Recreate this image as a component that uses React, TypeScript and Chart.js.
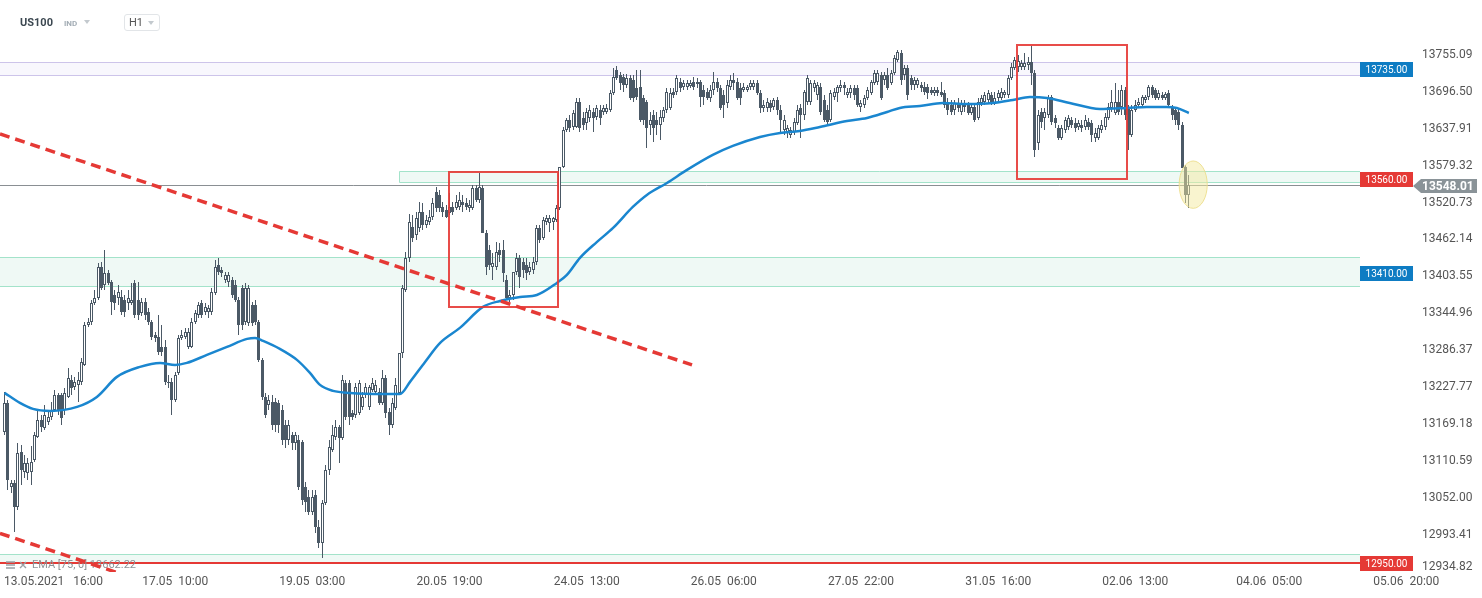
import React, { useEffect, useRef } from "react";
import { Chart, registerables } from "chart.js";

Chart.register(...registerables);
Chart.defaults.font.family = "Roboto";

const W = 1482;
const H = 598;

// ---- hourly candles, US100 H1 (13.05.2021 06:00 -> 03.06.2021 04:00) ----
const opens = [
  13157, 13203, 13069, 13076, 13038, 13125, 13093, 13092, 13093, 13112,
  13149, 13176, 13163, 13173, 13181, 13192, 13215, 13215, 13192, 13212,
  13239, 13228, 13231, 13236, 13263, 13326, 13331, 13361, 13369, 13419,
  13390, 13409, 13395, 13374, 13369, 13371, 13366, 13361, 13361, 13393,
  13366, 13346, 13363, 13347, 13331, 13311, 13308, 13292, 13292, 13235,
  13236, 13208, 13250, 13306, 13308, 13292, 13292, 13331, 13342, 13361,
  13347, 13347, 13347, 13377, 13422, 13414, 13398, 13395, 13398, 13390,
  13366, 13385, 13331, 13330, 13358, 13358, 13331, 13271, 13212, 13200,
  13204, 13204, 13203, 13192, 13168, 13144, 13152, 13139, 13144, 13141,
  13069, 13054, 13030, 13057, 13006, 12981, 13044, 13096, 13128, 13149,
  13165, 13147, 13235, 13235, 13187, 13184, 13187, 13196, 13215, 13196,
  13223, 13220, 13220, 13203, 13242, 13188, 13168, 13195, 13219, 13282,
  13382, 13433, 13482, 13469, 13481, 13506, 13485, 13490, 13498, 13538,
  13533, 13514, 13509, 13504, 13514, 13512, 13514, 13522, 13520, 13512,
  13512, 13544, 13525, 13544, 13473, 13446, 13419, 13419, 13446, 13446,
  13398, 13369, 13374, 13411, 13433, 13427, 13422, 13411, 13414, 13427,
  13481, 13465, 13490, 13488, 13490, 13493, 13512, 13577, 13636, 13652,
  13641, 13641, 13681, 13655, 13647, 13655, 13665, 13657, 13668, 13665,
  13665, 13668, 13695, 13731, 13723, 13720, 13708, 13719, 13715, 13703,
  13704, 13687, 13681, 13644, 13660, 13652, 13644, 13655, 13668, 13671,
  13696, 13696, 13712, 13704, 13704, 13706, 13712, 13709, 13712, 13700,
  13696, 13687, 13700, 13712, 13703, 13692, 13679, 13704, 13715, 13712,
  13703, 13700, 13700, 13704, 13704, 13711, 13695, 13671, 13671, 13679,
  13673, 13684, 13668, 13636, 13631, 13628, 13633, 13647, 13671, 13660,
  13681, 13681, 13703, 13692, 13704, 13684, 13668, 13652, 13688, 13695,
  13703, 13708, 13692, 13695, 13703, 13703, 13673, 13676, 13687, 13695,
  13710, 13712, 13723, 13715, 13723, 13710, 13727, 13747, 13758, 13723,
  13734, 13719, 13707, 13707, 13707, 13704, 13704, 13700, 13695, 13700,
  13696, 13695, 13681, 13676, 13668, 13679, 13665, 13679, 13676, 13663,
  13673, 13655, 13679, 13681, 13684, 13692, 13679, 13687, 13687, 13692,
  13692, 13719, 13734, 13736, 13736, 13736, 13739, 13744, 13726, 13615,
  13665, 13655, 13660, 13688, 13655, 13639, 13623, 13636, 13641, 13652,
  13647, 13641, 13644, 13641, 13649, 13647, 13623, 13623, 13636, 13641,
  13655, 13671, 13663, 13681, 13673, 13700, 13673, 13628, 13668, 13676,
  13676, 13684, 13688, 13704, 13700, 13687, 13692, 13687, 13695, 13671,
  13668, 13665, 13644, 13577, 13533,
];
const highs = [
  13220, 13208, 13081, 13081, 13139, 13136, 13120, 13115, 13135, 13157,
  13192, 13184, 13200, 13192, 13204, 13223, 13219, 13219, 13226, 13258,
  13247, 13244, 13252, 13274, 13331, 13338, 13366, 13382, 13425, 13427,
  13446, 13414, 13398, 13382, 13390, 13382, 13374, 13382, 13393, 13398,
  13395, 13369, 13369, 13354, 13334, 13315, 13342, 13326, 13303, 13247,
  13242, 13252, 13311, 13319, 13322, 13322, 13338, 13350, 13363, 13366,
  13361, 13358, 13385, 13430, 13433, 13419, 13411, 13411, 13403, 13398,
  13371, 13390, 13393, 13390, 13363, 13366, 13334, 13274, 13219, 13215,
  13215, 13211, 13207, 13200, 13176, 13176, 13157, 13157, 13152, 13144,
  13077, 13065, 13065, 13065, 13017, 13049, 13104, 13144, 13168, 13176,
  13168, 13247, 13239, 13239, 13192, 13235, 13239, 13220, 13235, 13231,
  13242, 13239, 13227, 13255, 13247, 13195, 13210, 13242, 13282, 13390,
  13442, 13503, 13501, 13506, 13522, 13520, 13501, 13509, 13528, 13546,
  13541, 13522, 13517, 13536, 13522, 13533, 13538, 13533, 13528, 13525,
  13549, 13549, 13568, 13549, 13477, 13454, 13441, 13458, 13457, 13461,
  13406, 13382, 13411, 13441, 13438, 13433, 13433, 13427, 13435, 13485,
  13485, 13498, 13501, 13501, 13498, 13517, 13577, 13641, 13655, 13660,
  13668, 13687, 13687, 13665, 13671, 13676, 13671, 13676, 13676, 13676,
  13677, 13700, 13735, 13738, 13728, 13725, 13725, 13723, 13723, 13731,
  13731, 13692, 13684, 13665, 13668, 13665, 13668, 13673, 13703, 13703,
  13703, 13723, 13719, 13715, 13715, 13715, 13720, 13719, 13715, 13708,
  13703, 13708, 13728, 13719, 13708, 13700, 13715, 13723, 13727, 13719,
  13711, 13711, 13708, 13715, 13715, 13715, 13700, 13684, 13687, 13684,
  13687, 13688, 13676, 13660, 13644, 13641, 13655, 13676, 13677, 13700,
  13723, 13715, 13715, 13712, 13710, 13692, 13676, 13700, 13703, 13708,
  13715, 13712, 13703, 13708, 13708, 13708, 13684, 13692, 13704, 13715,
  13731, 13731, 13728, 13728, 13734, 13731, 13755, 13763, 13763, 13739,
  13739, 13723, 13720, 13719, 13712, 13712, 13709, 13704, 13704, 13704,
  13712, 13700, 13687, 13684, 13684, 13687, 13684, 13684, 13681, 13679,
  13679, 13687, 13692, 13696, 13700, 13696, 13696, 13700, 13703, 13700,
  13723, 13742, 13752, 13755, 13747, 13758, 13752, 13769, 13731, 13668,
  13671, 13671, 13692, 13692, 13660, 13644, 13644, 13657, 13660, 13657,
  13655, 13652, 13652, 13660, 13655, 13652, 13639, 13644, 13652, 13663,
  13679, 13700, 13711, 13700, 13707, 13704, 13676, 13676, 13684, 13687,
  13692, 13692, 13707, 13707, 13703, 13700, 13696, 13696, 13700, 13676,
  13673, 13671, 13649, 13580, 13565,
];
const lows = [
  13152, 13065, 13060, 12998, 13033, 13073, 13084, 13081, 13073, 13109,
  13147, 13157, 13160, 13168, 13176, 13188, 13184, 13168, 13184, 13211,
  13215, 13223, 13204, 13231, 13261, 13323, 13326, 13358, 13366, 13382,
  13382, 13390, 13342, 13350, 13358, 13342, 13339, 13350, 13358, 13338,
  13334, 13341, 13334, 13326, 13303, 13300, 13279, 13277, 13231, 13227,
  13184, 13204, 13247, 13303, 13304, 13288, 13290, 13328, 13338, 13338,
  13342, 13338, 13342, 13374, 13406, 13403, 13393, 13387, 13369, 13363,
  13311, 13319, 13326, 13325, 13325, 13326, 13268, 13207, 13179, 13192,
  13160, 13157, 13155, 13136, 13131, 13136, 13128, 13128, 13065, 13041,
  13030, 13025, 13025, 12996, 12973, 12957, 13041, 13088, 13125, 13144,
  13107, 13144, 13176, 13168, 13176, 13179, 13184, 13192, 13211, 13192,
  13220, 13215, 13200, 13200, 13179, 13152, 13163, 13192, 13215, 13274,
  13379, 13427, 13458, 13461, 13474, 13477, 13481, 13485, 13493, 13506,
  13506, 13498, 13496, 13501, 13501, 13509, 13509, 13506, 13509, 13506,
  13509, 13522, 13520, 13473, 13406, 13414, 13398, 13414, 13427, 13395,
  13366, 13363, 13366, 13406, 13385, 13401, 13398, 13406, 13408, 13422,
  13457, 13461, 13485, 13474, 13477, 13490, 13509, 13576, 13633, 13633,
  13636, 13639, 13633, 13636, 13636, 13649, 13633, 13652, 13644, 13660,
  13661, 13665, 13692, 13715, 13700, 13696, 13703, 13684, 13681, 13684,
  13649, 13644, 13607, 13628, 13617, 13628, 13620, 13649, 13663, 13668,
  13687, 13692, 13696, 13700, 13700, 13703, 13700, 13703, 13673, 13676,
  13684, 13681, 13692, 13696, 13668, 13655, 13671, 13700, 13700, 13684,
  13676, 13696, 13696, 13700, 13700, 13692, 13663, 13665, 13665, 13665,
  13668, 13660, 13633, 13628, 13623, 13623, 13628, 13644, 13623, 13652,
  13676, 13676, 13696, 13684, 13660, 13649, 13644, 13649, 13684, 13681,
  13696, 13692, 13687, 13687, 13684, 13673, 13665, 13671, 13684, 13692,
  13707, 13707, 13684, 13707, 13700, 13707, 13723, 13744, 13707, 13715,
  13684, 13700, 13700, 13702, 13696, 13692, 13686, 13692, 13690, 13690,
  13688, 13671, 13660, 13660, 13660, 13665, 13660, 13665, 13660, 13660,
  13649, 13652, 13674, 13676, 13679, 13676, 13676, 13681, 13684, 13687,
  13687, 13715, 13731, 13728, 13731, 13731, 13731, 13707, 13593, 13604,
  13639, 13636, 13655, 13644, 13639, 13620, 13620, 13631, 13636, 13639,
  13633, 13636, 13633, 13636, 13636, 13617, 13617, 13620, 13631, 13636,
  13652, 13665, 13660, 13660, 13660, 13652, 13604, 13625, 13665, 13671,
  13673, 13679, 13684, 13687, 13684, 13684, 13684, 13684, 13671, 13652,
  13644, 13636, 13576, 13520, 13512,
];
const closes = [
  13203, 13081, 13076, 13038, 13123, 13096, 13108, 13108, 13109, 13152,
  13176, 13165, 13184, 13181, 13192, 13215, 13192, 13179, 13219, 13242,
  13226, 13236, 13239, 13268, 13326, 13331, 13361, 13369, 13419, 13385,
  13409, 13393, 13363, 13361, 13379, 13347, 13347, 13369, 13366, 13342,
  13342, 13363, 13342, 13331, 13308, 13306, 13284, 13284, 13236, 13236,
  13208, 13247, 13306, 13311, 13315, 13315, 13331, 13346, 13358, 13342,
  13355, 13354, 13379, 13419, 13411, 13409, 13406, 13406, 13374, 13366,
  13326, 13326, 13385, 13385, 13330, 13331, 13271, 13212, 13184, 13207,
  13168, 13168, 13168, 13144, 13144, 13168, 13139, 13152, 13069, 13049,
  13046, 13030, 13054, 13006, 12981, 13044, 13096, 13133, 13152, 13165,
  13147, 13239, 13181, 13181, 13181, 13228, 13235, 13212, 13228, 13228,
  13235, 13231, 13203, 13242, 13187, 13168, 13203, 13231, 13282, 13385,
  13433, 13490, 13465, 13496, 13506, 13485, 13493, 13498, 13520, 13512,
  13512, 13506, 13498, 13514, 13506, 13522, 13525, 13517, 13514, 13517,
  13544, 13525, 13546, 13473, 13419, 13422, 13425, 13442, 13438, 13409,
  13369, 13374, 13411, 13433, 13403, 13414, 13409, 13419, 13427, 13481,
  13461, 13493, 13496, 13496, 13496, 13512, 13577, 13636, 13652, 13639,
  13663, 13681, 13639, 13644, 13665, 13668, 13655, 13671, 13655, 13671,
  13671, 13695, 13720, 13719, 13711, 13708, 13719, 13687, 13687, 13688,
  13652, 13652, 13639, 13652, 13639, 13644, 13657, 13668, 13696, 13695,
  13692, 13719, 13703, 13711, 13711, 13711, 13704, 13712, 13688, 13688,
  13687, 13700, 13712, 13703, 13671, 13676, 13708, 13715, 13711, 13687,
  13687, 13704, 13704, 13711, 13711, 13695, 13671, 13676, 13681, 13671,
  13684, 13668, 13652, 13652, 13639, 13636, 13649, 13668, 13660, 13696,
  13719, 13711, 13711, 13708, 13665, 13652, 13649, 13695, 13696, 13704,
  13708, 13703, 13696, 13703, 13692, 13676, 13679, 13687, 13700, 13712,
  13727, 13727, 13687, 13723, 13703, 13727, 13750, 13760, 13715, 13734,
  13692, 13707, 13715, 13715, 13703, 13696, 13695, 13695, 13700, 13695,
  13692, 13676, 13668, 13665, 13679, 13671, 13679, 13673, 13663, 13673,
  13652, 13681, 13687, 13692, 13695, 13679, 13687, 13695, 13696, 13696,
  13719, 13736, 13747, 13746, 13742, 13742, 13744, 13726, 13604, 13660,
  13649, 13665, 13687, 13649, 13647, 13623, 13639, 13652, 13655, 13644,
  13639, 13647, 13639, 13652, 13641, 13628, 13631, 13639, 13644, 13657,
  13673, 13681, 13681, 13665, 13700, 13660, 13628, 13668, 13676, 13681,
  13688, 13688, 13704, 13692, 13687, 13695, 13687, 13693, 13676, 13660,
  13652, 13644, 13576, 13533, 13548.01,
];

// ---- EMA(75) line (candle index, value) ----
const emaIdx = [
  0, 4.6, 8.5, 13.6, 21.7, 27.6, 33.6, 40.5, 46.5, 51,
  54.5, 60.5, 66.5, 72.5, 74.9, 77.3, 82.3, 87.4, 91.3, 94.3,
  98.2, 103.3, 113.1, 118.2, 121.2, 125.7, 130.2, 136.1, 143, 148.1,
  154.1, 159.1, 165.1, 168.1, 172, 177.1, 181.9, 187.8, 192, 198,
  204, 211.7, 217.7, 225.8, 231.8, 237.7, 243.7, 251.8, 257.8, 263.8,
  267.6, 273.6, 280.5, 287.6, 295.4, 301.4, 306.5, 311.6, 318.4, 327.4,
  335.5, 341.4, 347.4, 350.4, 354,
];
const emaVal = [
  13218.6, 13202.7, 13193.2, 13190, 13196.4, 13212.2, 13244, 13259.9, 13266.2, 13263,
  13266.2, 13278.9, 13291.6, 13304.3, 13305.9, 13301.1, 13288.4, 13271, 13250.3, 13231.3,
  13221.8, 13218.6, 13217, 13217, 13236.1, 13267.8, 13298, 13321.8, 13355.1, 13364.6,
  13371, 13374.1, 13393.2, 13405.9, 13432.9, 13458.3, 13480.5, 13513.8, 13532.9, 13551.9,
  13572.6, 13596.4, 13610.7, 13624.9, 13631.3, 13634.5, 13640.8, 13650.3, 13655.1, 13664.6,
  13671, 13674.1, 13678.9, 13677.3, 13678.9, 13683.7, 13688.4, 13686.8, 13678.9, 13669.4,
  13671, 13672.6, 13672.6, 13671, 13663,
];
const emaPeriod = 75;
const emaLast = 13662.22;

// ---- axes ----
const xTickIdx = [10, 51, 92, 133, 174, 215, 256, 297, 338, 378, 419];
const xTickLabels = [
  "13.05.2021   16:00", "17.05  10:00", "19.05  03:00", "20.05  19:00", "24.05  13:00",
  "26.05  06:00", "27.05  22:00", "31.05  16:00", "02.06  13:00", "04.06  05:00", "05.06  20:00",
];
const yTicks = [
  12934.82, 12993.41, 13052.0, 13110.59, 13169.18, 13227.77, 13286.37, 13344.96,
  13403.55, 13462.14, 13520.73, 13579.32, 13637.91, 13696.5, 13755.09,
];
const X_MIN = -1.35;
const X_MAX = 421;
const Y_MIN = 12934.2;
const Y_MAX = 13842.4;

// ---- drawn annotations (data space) ----
const lastPrice = 13548.01;
const levelValues = [13735, 13560, 13410, 12950];
const levelIsRed = [false, true, false, true];
const purpleBand = [13723.4, 13743.5];
const mintBandUpper = [13553.4, 13570.9];
const mintBandUpperStart = 118;
const mintBandMiddle = [13388.4, 13434];
const mintBandLower = [12950, 12962.6];
const redBoxX = [[132.8, 165.5], [302.6, 335.4]];
const redBoxY = [[13355.6, 13568.9], [13557.8, 13771]];
const trendA = [[-1.35, 13629.7], [205.5, 13263]];
const trendB = [[-1.35, 12995.6], [40, 12922]];
const highlightX = [351.1, 359.5];
const highlightY = [13511.6, 13586.8];

const CANDLE = "#4b5966";
const BLUE = "#0e7cc3";
const RED = "#e53935";

// snaps candle bars to whole pixels so they render crisp
const snapPlugin = {
  id: "snap",
  afterDatasetsUpdate(chart: any) {
    chart.data.datasets.forEach((_: any, di: number) => {
      const meta = chart.getDatasetMeta(di);
      if (meta.type !== "bar") return;
      meta.data.forEach((el: any) => {
        el.x = Math.floor(el.x) + 0.5;
        let top = Math.round(el.y);
        const base = Math.round(el.base);
        if (Math.abs(top - base) < 1) top = base - 1;
        el.y = top;
        el.base = base;
        el.height = base - top;
      });
    });
  },
};

const overlayPlugin = {
  id: "overlay",
  beforeDatasetsDraw(chart: any) {
    const { ctx, chartArea: a } = chart;
    const xs = chart.scales.x;
    const ys = chart.scales.y;
    const bandRight = a.right - 53;
    const py = (v: number) => Math.round(ys.getPixelForValue(v)) + 0.5;
    ctx.save();
    ctx.beginPath();
    ctx.rect(a.left, a.top, a.width, a.height);
    ctx.clip();

    const band = (x0: number, x1: number, v: number[], fill: string, stroke: string, sides: boolean) => {
      const yt = py(Math.max(v[0], v[1]));
      const yb = py(Math.min(v[0], v[1]));
      ctx.fillStyle = fill;
      ctx.fillRect(x0, yt, x1 - x0, yb - yt);
      ctx.strokeStyle = stroke;
      ctx.lineWidth = 1;
      ctx.beginPath();
      ctx.moveTo(x0, yt);
      ctx.lineTo(x1, yt);
      ctx.moveTo(x0, yb);
      ctx.lineTo(x1, yb);
      if (sides) {
        ctx.moveTo(x0, yt);
        ctx.lineTo(x0, yb);
      }
      ctx.stroke();
    };
    band(a.left, bandRight, purpleBand, "#f8f7fd", "#cdc4ea", false);
    band(Math.round(xs.getPixelForValue(mintBandUpperStart)) + 0.5, bandRight, mintBandUpper, "#eff9f5", "#a3e3ca", true);
    band(a.left, bandRight, mintBandMiddle, "#eff9f5", "#a3e3ca", false);
    band(a.left, bandRight, mintBandLower, "#eff9f5", "#a3e3ca", false);

    // 12950 red level line
    const yr = Math.round(ys.getPixelForValue(levelValues[3])) + 1;
    ctx.strokeStyle = RED;
    ctx.lineWidth = 2;
    ctx.beginPath();
    ctx.moveTo(a.left, yr);
    ctx.lineTo(bandRight, yr);
    ctx.stroke();

    // current price line
    const yp = py(lastPrice);
    ctx.strokeStyle = "#8a8f93";
    ctx.lineWidth = 1;
    ctx.beginPath();
    ctx.moveTo(a.left, yp);
    ctx.lineTo(a.right, yp);
    ctx.stroke();

    // EMA legend
    const ly = a.bottom - 7;
    ctx.strokeStyle = "#9aa0a5";
    ctx.lineWidth = 1.4;
    ctx.beginPath();
    for (let k = -1; k <= 1; k++) {
      ctx.moveTo(6, ly + k * 3);
      ctx.lineTo(15, ly + k * 3);
    }
    ctx.moveTo(20, ly - 3);
    ctx.lineTo(26, ly + 3);
    ctx.moveTo(26, ly - 3);
    ctx.lineTo(20, ly + 3);
    ctx.stroke();
    ctx.fillStyle = "#8d9397";
    ctx.font = "11px Roboto";
    ctx.textAlign = "left";
    ctx.textBaseline = "middle";
    ctx.fillText(`EMA [${emaPeriod}, 0] ${emaLast.toFixed(2)}`, 32, ly);
    ctx.restore();
  },
  afterDatasetsDraw(chart: any) {
    const { ctx, chartArea: a } = chart;
    const xs = chart.scales.x;
    const ys = chart.scales.y;
    ctx.save();
    ctx.beginPath();
    ctx.rect(a.left, a.top, a.width, a.height);
    ctx.clip();

    // red rectangles
    ctx.strokeStyle = "rgba(229,57,53,0.9)";
    ctx.lineWidth = 2;
    redBoxX.forEach((bx, k) => {
      const x0 = Math.round(xs.getPixelForValue(bx[0]));
      const x1 = Math.round(xs.getPixelForValue(bx[1]));
      const y0 = Math.round(ys.getPixelForValue(redBoxY[k][1]));
      const y1 = Math.round(ys.getPixelForValue(redBoxY[k][0]));
      ctx.strokeRect(x0, y0, x1 - x0, y1 - y0);
    });

    // dashed trend lines
    ctx.strokeStyle = RED;
    ctx.lineWidth = 3.5;
    ctx.setLineDash([10, 6]);
    [trendA, trendB].forEach((t) => {
      ctx.beginPath();
      ctx.moveTo(xs.getPixelForValue(t[0][0]), ys.getPixelForValue(t[0][1]));
      ctx.lineTo(xs.getPixelForValue(t[1][0]), ys.getPixelForValue(t[1][1]));
      ctx.stroke();
    });
    ctx.setLineDash([]);

    // highlight ellipse
    const ex0 = xs.getPixelForValue(highlightX[0]);
    const ex1 = xs.getPixelForValue(highlightX[1]);
    const ey0 = ys.getPixelForValue(highlightY[1]);
    const ey1 = ys.getPixelForValue(highlightY[0]);
    ctx.beginPath();
    ctx.ellipse((ex0 + ex1) / 2, (ey0 + ey1) / 2, (ex1 - ex0) / 2, (ey1 - ey0) / 2, 0, 0, Math.PI * 2);
    ctx.fillStyle = "rgba(244,234,160,0.5)";
    ctx.fill();
    ctx.strokeStyle = "rgba(236,222,140,0.9)";
    ctx.lineWidth = 1;
    ctx.stroke();

    // level labels at the right edge of the plot
    ctx.font = "10px Roboto";
    ctx.textAlign = "center";
    ctx.textBaseline = "middle";
    levelValues.forEach((v, k) => {
      const yc = Math.round(ys.getPixelForValue(v)) + 1.5;
      ctx.fillStyle = levelIsRed[k] ? RED : BLUE;
      ctx.fillRect(a.right - 53, yc - 7.5, 53, 15);
      ctx.fillStyle = "#ffffff";
      ctx.fillText(v.toFixed(2), a.right - 26.5, yc + 0.5);
    });
    ctx.restore();
  },
  afterDraw(chart: any) {
    const { ctx, chartArea: a } = chart;
    const xs = chart.scales.x;
    const ys = chart.scales.y;
    ctx.save();
    ctx.font = "12px Roboto";
    ctx.fillStyle = "#555";
    ctx.textAlign = "left";
    ctx.textBaseline = "middle";
    // x-axis labels
    xTickIdx.forEach((v, k) => {
      const w = ctx.measureText(xTickLabels[k]).width;
      const cx = xs.getPixelForValue(v);
      const left = Math.max(4, cx - w / 2);
      ctx.fillText(xTickLabels[k], left, a.bottom + 10);
    });
    // y-axis labels (bottom one kept inside the plot height)
    yTicks.forEach((v) => {
      const yc = Math.min(ys.getPixelForValue(v), a.bottom - 5);
      ctx.fillText(v.toFixed(2), a.right + 9, yc);
    });
    // last price tag
    const yc = Math.round(ys.getPixelForValue(lastPrice)) + 1;
    const x0 = a.right;
    ctx.fillStyle = "#8a9398";
    ctx.beginPath();
    ctx.moveTo(x0, yc);
    ctx.lineTo(x0 + 8, yc - 7);
    ctx.lineTo(x0 + 64, yc - 7);
    ctx.lineTo(x0 + 64, yc + 7);
    ctx.lineTo(x0 + 8, yc + 7);
    ctx.closePath();
    ctx.fill();
    ctx.fillStyle = "#ffffff";
    ctx.font = "bold 12px Roboto";
    ctx.fillText(lastPrice.toFixed(2), x0 + 9, yc + 0.5);
    ctx.restore();
  },
};

export default function App() {
  const ref = useRef<HTMLCanvasElement>(null);

  useEffect(() => {
    const canvas = ref.current;
    if (!canvas) return;
    const idx = closes.map((_, i) => i);
    const wickData = idx.map((i) => ({ x: i, y: [lows[i], highs[i]] }));
    const bodyData = idx.map((i) => ({ x: i, y: [opens[i], closes[i]] }));
    const bodyFill = idx.map((i) => (closes[i] >= opens[i] ? "#ffffff" : CANDLE));
    const emaData = emaIdx.map((x, i) => ({ x, y: emaVal[i] }));

    const chart = new Chart(canvas, {
      type: "bar",
      data: {
        datasets: [
          {
            type: "bar",
            data: wickData as any,
            backgroundColor: CANDLE,
            barThickness: 1,
            grouped: false,
            inflateAmount: 0,
            order: 2,
          } as any,
          {
            type: "bar",
            data: bodyData as any,
            backgroundColor: bodyFill,
            borderColor: CANDLE,
            borderWidth: 1,
            borderSkipped: false,
            barThickness: 3,
            minBarLength: 1,
            grouped: false,
            inflateAmount: 0,
            order: 1,
          } as any,
          {
            type: "line",
            data: emaData as any,
            borderColor: "#1a86cf",
            borderWidth: 2.5,
            pointRadius: 0,
            cubicInterpolationMode: "monotone",
            order: 0,
          } as any,
        ],
      },
      options: {
        responsive: false,
        animation: false,
        devicePixelRatio: 1,
        events: [],
        layout: { padding: 0 },
        plugins: { legend: { display: false }, tooltip: { enabled: false } },
        scales: {
          x: {
            type: "linear",
            min: X_MIN,
            max: X_MAX,
            offset: false,
            grid: { display: false },
            border: { display: false },
            ticks: { display: false },
            afterFit: (s: any) => {
              s.height = 26;
              s.paddingLeft = 0;
              s.paddingRight = 0;
            },
          },
          y: {
            type: "linear",
            position: "right",
            min: Y_MIN,
            max: Y_MAX,
            grid: { display: false, drawTicks: false },
            border: { display: false },
            ticks: { display: false },
            afterBuildTicks: (s: any) => {
              s.ticks = yTicks.map((v) => ({ value: v }));
            },
            afterFit: (s: any) => {
              s.width = 69;
              s.paddingTop = 0;
              s.paddingBottom = 0;
            },
          },
        },
      } as any,
      plugins: [snapPlugin, overlayPlugin],
    });
    return () => chart.destroy();
  }, []);

  const tri = (left: number, top: number) => (
    <div
      style={{
        position: "absolute",
        left,
        top,
        width: 0,
        height: 0,
        borderLeft: "3.5px solid transparent",
        borderRight: "3.5px solid transparent",
        borderTop: "4px solid #c3c9ce",
      }}
    />
  );

  return (
    <div style={{ position: "absolute", left: 0, top: 0, width: W, height: H, background: "#fff", overflow: "hidden" }}>
      <canvas ref={ref} width={W} height={H} style={{ display: "block", width: W, height: H }} />
      <div style={{ position: "absolute", left: 20, top: 16, font: "bold 11px Roboto", color: "#3c4851", lineHeight: "13px" }}>
        US100
      </div>
      <div style={{ position: "absolute", left: 64, top: 19, font: "bold 8px Roboto", color: "#a3adb5", lineHeight: "10px" }}>
        IND
      </div>
      {tri(84, 20)}
      <div
        style={{
          position: "absolute",
          left: 124,
          top: 14,
          width: 36,
          height: 17,
          boxSizing: "border-box",
          border: "1px solid #e2e5e8",
          borderRadius: 3,
          background: "#fff",
        }}
      >
        <div style={{ position: "absolute", left: 4, top: 1, font: "11px Roboto", color: "#555", lineHeight: "14px" }}>H1</div>
        {tri(23, 6)}
      </div>
    </div>
  );
}
